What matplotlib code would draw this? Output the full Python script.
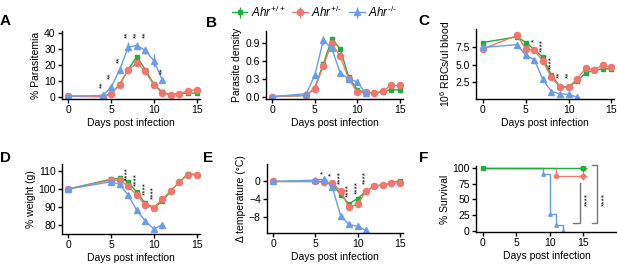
import matplotlib
matplotlib.use("Agg")
import matplotlib.pyplot as plt
import numpy as np

plt.rcParams['font.family'] = ['Liberation Sans', 'DejaVu Sans']
plt.rcParams['mathtext.fontset'] = 'custom'
plt.rcParams['mathtext.rm'] = 'Liberation Sans'
plt.rcParams['mathtext.it'] = 'Liberation Sans:italic'

GREEN = '#1fae3a'
RED = '#f0776d'
BLUE = '#6b9cec'

days = [0, 4, 5, 6, 7, 8, 9, 10, 11, 12, 13, 14, 15]
days_ko = [0, 4, 5, 6, 7, 8, 9, 10, 11]
days_w = [0, 5, 6, 7, 8, 9, 10, 11, 12, 13, 14, 15]
days_w_ko = [0, 5, 6, 7, 8, 9, 10, 11]

# A: % parasitemia
para_wt = [0.5, 0.3, 2, 8, 17, 25, 17, 8, 3, 1.5, 2, 2.5, 2.5]
para_het = [0.5, 0.3, 2, 7.5, 17, 21, 16, 7.5, 2.5, 1.5, 2, 4, 4.5]
para_ko = [0.5, 1, 6, 17, 31, 32, 29, 22.5, 10.5]
para_ko_err = [0.3, 0.5, 1, 2, 3, 2, 2, 4, 1.5]
para_stars = {4: (7.4, '**'), 5: (13.5, '**'), 6: (23, '**'), 7: (38.5, '**'),
              8: (38.5, '**'), 9: (38.5, '**'), 11: (16.6, '**')}

# B: parasite density
dens_wt = [0.0, 0.02, 0.15, 0.55, 0.97, 0.81, 0.33, 0.12, 0.07, 0.06, 0.08, 0.12, 0.11]
dens_het = [0.0, 0.02, 0.13, 0.52, 0.9, 0.68, 0.3, 0.08, 0.07, 0.06, 0.09, 0.19, 0.19]
dens_ko = [0.0, 0.05, 0.36, 0.95, 0.82, 0.4, 0.3, 0.25, 0.06]
dens_ko_err = [0.01, 0.02, 0.04, 0.08, 0.05, 0.03, 0.03, 0.04, 0.02]

# C: RBC counts
rbc_wt = [8.1, 8.9, 8.1, 7.1, 6.0, 3.5, 1.9, 1.8, 2.7, 3.8, 4.2, 4.4, 4.4]
rbc_het = [7.2, 9.1, 7.2, 7.0, 5.5, 3.2, 1.8, 1.8, 3.0, 4.5, 4.3, 4.9, 4.6]
rbc_ko = [7.4, 7.8, 6.3, 5.7, 2.9, 1.2, 0.9, 0.8, 0.4]
rbc_stars = {6: (8.4, '*'), 7: (7.7, '****'), 8: (5.3, '****'),
             9: (3.5, '**'), 10: (3.5, '**')}

# D: % weight
wt_wt = [100, 105.5, 106, 104, 98, 92, 89.5, 93, 99, 104, 108.5, 108]
wt_het = [100, 105, 105, 101.5, 96.5, 91, 89.5, 94.5, 99, 104, 108, 108]
wt_ko = [100, 104, 102.5, 96.5, 88, 82, 77.5, 80]
wt_stars = {7: (108.8, '****'), 8: (105.5, '****'), 9: (100.5, '****'),
            10: (97.8, '****')}

# E: delta temperature
temp_wt = [0, 0, 0, -0.5, -3, -5, -3.8, -2.3, -1.0, -0.8, -0.4, 0.2]
temp_het = [0, 0, -0.2, -0.3, -2.2, -5.8, -5.0, -2.2, -1.0, -0.8, -0.4, -0.3]
temp_ko = [0, 0.3, 0.5, -1.2, -7.7, -9.6, -10.0, -10.9]
temp_stars = {6: (2.1, '*'), 7: (1.5, '*'), 8: (0.9, '****'),
              9: (-2.0, '****'), 10: (-1.4, '****'), 11: (0.9, '****')}

# F: survival
surv_wt_x = [0, 15]
surv_wt_y = [100, 100]
surv_het_x = [0, 11, 15]
surv_het_y = [100, 87.5, 87.5]
surv_ko_x = [0, 9, 10, 11, 12]
surv_ko_y = [100, 90, 27, 9, 0]

labels = [r'$Ahr^{\mathrm{+/+}}$', r'$Ahr^{\mathrm{+/\text{-}}}$', r'$Ahr^{\mathrm{\text{-}/\text{-}}}$']

fig = plt.figure(figsize=(6.17, 2.69), dpi=100)
W, H = 617, 269


def add_ax(l, r, t, b):
    return fig.add_axes([l / W, 1 - b / H, (r - l) / W, (b - t) / H])


def style(ax, ylabel, xlim=(-0.75, 15.4)):
    for s in ['top', 'right']:
        ax.spines[s].set_visible(False)
    ax.spines['left'].set_linewidth(1)
    ax.spines['bottom'].set_linewidth(1)
    ax.tick_params(labelsize=7.5, length=3, width=1, pad=1.5)
    ax.set_xlim(*xlim)
    ax.set_xticks([0, 5, 10, 15])
    ax.set_xlabel('Days post infection', fontsize=7.5, labelpad=2)
    ax.set_ylabel(ylabel, fontsize=7.5, labelpad=2)


def lines(ax, x1, y1, x2, y2, x3, y3, e3=None):
    h1 = ax.errorbar(x1, y1, yerr=0, color=GREEN, marker='s', ms=3.5, lw=1, elinewidth=1, label=labels[0])
    h2 = ax.errorbar(x2, y2, yerr=0, color=RED, marker='o', ms=4.4, lw=1, elinewidth=1, label=labels[1])
    h3 = ax.errorbar(x3, y3, yerr=e3 if e3 is not None else 0, color=BLUE, marker='^', ms=4.2, lw=1,
                     elinewidth=1, label=labels[2])
    return [h1, h2, h3]


def stars(ax, d):
    for x, (y, s) in d.items():
        ax.text(x, y, s, rotation=90, fontsize=6, ha='center', va='center')


axA = add_ax(62, 200, 31, 99)
handles = lines(axA, days, para_wt, days, para_het, days_ko, para_ko, para_ko_err)
stars(axA, para_stars)
axA.set_ylim(-1.2, 41)
axA.set_yticks([0, 10, 20, 30, 40])
style(axA, '% Parasitemia')

axB = add_ax(266, 403, 31, 99)
lines(axB, days, dens_wt, days, dens_het, days_ko, dens_ko, dens_ko_err)
axB.set_ylim(-0.04, 1.11)
axB.set_yticks([0.0, 0.3, 0.6, 0.9])
axB.set_yticklabels(['0.0', '0.3', '0.6', '0.9'])
style(axB, 'Parasite density')

axC = add_ax(476, 614, 29, 99)
lines(axC, days, rbc_wt, days, rbc_het, days_ko, rbc_ko)
stars(axC, rbc_stars)
axC.set_ylim(0.15, 10)
axC.set_yticks([2.5, 5.0, 7.5])
axC.set_yticklabels(['2.5', '5.0', '7.5'])
style(axC, r'10$^6$ RBCs/ul blood', xlim=(-0.8, 15.3))

axD = add_ax(62, 200, 164, 234)
lines(axD, days_w, wt_wt, days_w, wt_het, days_w_ko, wt_ko)
stars(axD, wt_stars)
axD.set_ylim(74.7, 114)
axD.set_yticks([80, 90, 100, 110])
style(axD, '% weight (g)')

axE = add_ax(267, 403, 164, 233)
lines(axE, days_w, temp_wt, days_w, temp_het, days_w_ko, temp_ko)
stars(axE, temp_stars)
axE.set_ylim(-11.5, 3.9)
axE.set_yticks([0, -4, -8])
style(axE, 'Δ temperature (°C)')

axF = add_ax(476, 617, 166, 232)
axF.step(surv_wt_x, surv_wt_y, where='post', color=GREEN, lw=1, zorder=3)
axF.step(surv_het_x, surv_het_y, where='post', color=RED, lw=1, zorder=2)
axF.step(surv_ko_x, surv_ko_y, where='post', color=BLUE, lw=1, zorder=1)
axF.plot(surv_wt_x, surv_wt_y, 's', color=GREEN, ms=3, zorder=4)
axF.plot(surv_wt_x[-1:], surv_wt_y[-1:], '+', color=GREEN, ms=6, mew=1, zorder=4)
axF.plot(surv_het_x[1:], surv_het_y[1:], 'o', color=RED, ms=3, zorder=3)
axF.plot(surv_het_x[-1:], surv_het_y[-1:], '+', color=RED, ms=6, mew=1, zorder=3)
axF.plot(surv_ko_x[1:], surv_ko_y[1:], '^', color=BLUE, ms=2.5, zorder=2)
axF.set_ylim(-2, 103)
axF.set_yticks([0, 25, 50, 75, 100])
style(axF, '% Survival', xlim=(-1.05, 20.1))
# significance brackets
axF.plot([13.5, 14.55, 14.55], [12.6, 12.6, 76], color='#777777', lw=1, clip_on=False)
axF.plot([16.35, 17.1, 17.1, 16.35], [12.6, 12.6, 104, 104], color='#777777', lw=1, clip_on=False)
axF.text(15.75, 50, '****', rotation=90, fontsize=6, ha='center', va='center')
axF.text(18.3, 50, '****', rotation=90, fontsize=6, ha='center', va='center')

fig.legend(handles, labels, loc='upper center', bbox_to_anchor=(0.51, 1.01), ncol=3,
           frameon=False, fontsize=8.5, handlelength=1.3, handletextpad=0.3, columnspacing=0.6,
           borderaxespad=0.2)

for lab, x, y in [('A', 0, 25), ('B', 206, 27), ('C', 418, 25), ('D', 0, 162), ('E', 203, 162),
                  ('F', 419, 162)]:
    fig.text(x / W, 1 - y / H, lab, fontsize=11, fontweight='bold', va='baseline')

fig.savefig('out.png', dpi=100)
